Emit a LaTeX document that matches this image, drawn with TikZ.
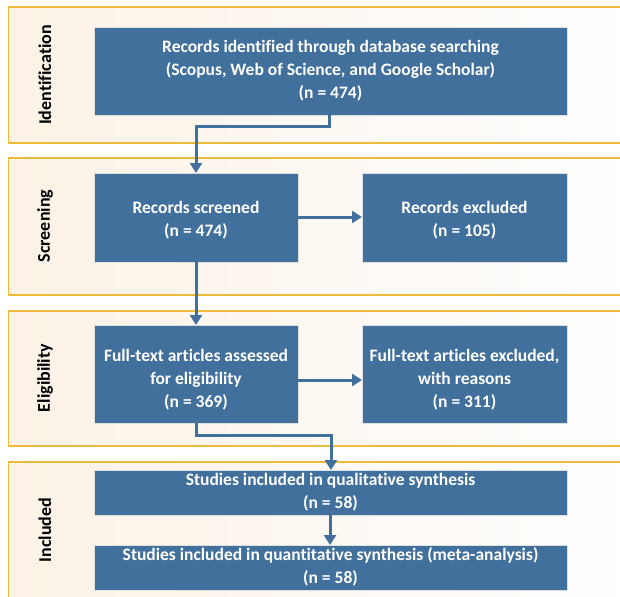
\documentclass[tikz,border=0pt]{standalone}
\usepackage{fontspec}
\setmainfont[Ligatures=NoCommon]{Carlito}
\usetikzlibrary{arrows.meta}
\definecolor{boxblue}{HTML}{41709C}
\definecolor{bandgold}{HTML}{ECBB3A}
\definecolor{bandcream}{HTML}{FCF2E6}
\tikzset{
  band/.style={draw=bandgold, line width=1.3pt, left color=bandcream, right color=white},
  bluebox/.style={fill=boxblue, draw=black!12, line width=0.8pt},
  boxtext/.style={text=white, font=\fontsize{17.5}{23}\selectfont\bfseries, align=center, inner sep=0pt},
  phase/.style={rotate=90, font=\fontsize{18}{20}\selectfont\bfseries, text=black, inner sep=0pt},
  flow/.style={draw=boxblue, line width=3pt, -{Triangle[length=10pt,width=12pt]}}
}
\begin{document}
\begin{tikzpicture}[x=1pt,y=-1pt]
\useasboundingbox (0,0) rectangle (620,596);
\clip (0,0) rectangle (620,596);
% bands
\path[band] (8.5,7) rectangle (640,143);
\path[band] (8.5,158) rectangle (640,295);
\path[band] (8.5,311) rectangle (640,446);
\path[band] (8.5,462) rectangle (640,610);
% phase labels
\node[phase] (p1) at (45,75) {Identification};
\node[phase] (p2) at (45,226) {Screening};
\node[phase] (p3) at (45,378) {Eligibility};
\node[phase] (p4) at (45,530) {Included};
% boxes
\path[bluebox] (94,27) rectangle (567,115);
\node[boxtext] (b1) at (330.5,71) {Records identified through database searching\\(Scopus, Web of Science, and Google Scholar)\\(n = 474)};
\path[bluebox] (94,173) rectangle (298,262);
\node[boxtext] (b2) at (196,220) {Records screened\\(n = 474)};
\path[bluebox] (362,173) rectangle (567,262);
\node[boxtext] (b3) at (464.5,220) {Records excluded\\(n = 105)};
\path[bluebox] (94,325) rectangle (298,423);
\node[boxtext] (b4) at (196,380) {Full-text articles assessed\\for eligibility\\(n = 369)};
\path[bluebox] (362,325) rectangle (567,423);
\node[boxtext] (b5) at (464.5,380) {Full-text articles excluded,\\with reasons\\(n = 311)};
\path[bluebox] (94,470) rectangle (567,515);
\node[boxtext] (b6) at (330.5,492) {Studies included in qualitative synthesis\\(n = 58)};
\path[bluebox] (94,545) rectangle (567,590);
\node[boxtext] (b7) at (330.5,567) {Studies included in quantitative synthesis (meta-analysis)\\(n = 58)};
% anchors for connectors
\coordinate (b1s) at (329,115);
\coordinate (b2n) at (196,173);
\coordinate (b2e) at (298,217);
\coordinate (b3w) at (362,217);
\coordinate (b2s) at (196,262);
\coordinate (b4n) at (196,325);
\coordinate (b4e) at (298,380);
\coordinate (b5w) at (362,380);
\coordinate (b4s) at (196,423);
\coordinate (b6n) at (331,470);
\coordinate (b6s) at (330,515);
\coordinate (b7n) at (330,545);
% connectors
\draw[flow] (b1s) -- (329,127) -| (b2n);
\draw[flow] (b2e) -- (b3w);
\draw[flow] (b2s) -- (b4n);
\draw[flow] (b4e) -- (b5w);
\draw[flow] (b4s) -- (196,435) -| (b6n);
\draw[flow] (b6s) -- (b7n);
\end{tikzpicture}
\end{document}
